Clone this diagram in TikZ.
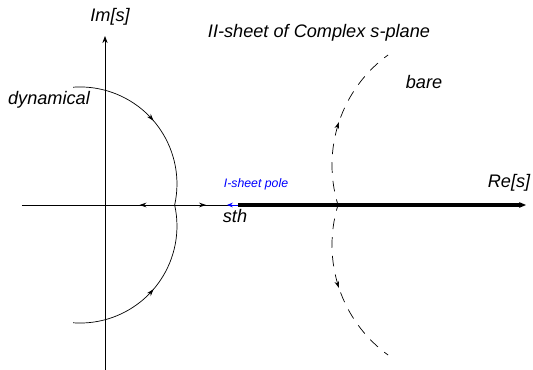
\documentclass[tikz,border=0pt]{standalone}
\usepackage{fontspec}
\setmainfont{Liberation Sans}
\usetikzlibrary{arrows.meta, decorations.markings}

\begin{document}
\begin{tikzpicture}[
    x=0.03cm, y=0.03cm,
    >=Stealth,
    lbl/.style={font=\fontsize{15.5}{18}\selectfont\itshape},
    axis/.style={line width=0.8pt},
    contour/.style={line width=0.6pt},
    bareline/.style={line width=0.6pt, dash pattern=on 9pt off 7pt, dash phase=4pt},
    midarrow/.style={postaction={decorate, decoration={markings,
        mark=at position 0.5 with {\arrow{Stealth[length=6pt, width=4pt]}}}}}
  ]
  \useasboundingbox (-105,-165) rectangle (428,205);

  % Axes
  \coordinate (O) at (0,0);
  \coordinate (xl) at (-83,0);
  \coordinate (cusp) at (69,0);
  \coordinate (cut) at (133,0);
  \coordinate (xr) at (421,0);
  \coordinate (yb) at (0,-165);
  \coordinate (yt) at (0,169);
  \draw[axis] (xl) -- (O);
  \draw[axis, midarrow] (cusp) -- (O);
  \draw[axis, midarrow] (cusp) -- (cut);
  \draw[axis, -{Stealth[length=6pt, width=4.5pt]}] (yb) -- (yt);
  \draw[line width=3.4pt, -{Stealth[length=6pt, width=5pt]}] (cut) -- (xr);

  % I-sheet pole
  \coordinate (pole) at (122,0);
  \draw[axis, blue, -{Stealth[length=5pt, width=4pt]}] (cut) -- (pole);

  % Dynamical contour
  \coordinate (dyntop) at (-31.8,117.8);
  \coordinate (dynbot) at (-31.8,-117.8);
  \draw[contour, midarrow] (dyntop) arc[start angle=94, end angle=-12.6, radius=2.91cm];
  \draw[contour, midarrow] (dynbot) arc[start angle=-94, end angle=12.6, radius=2.91cm];

  % Bare contour
  \coordinate (bcusp) at (233,0);
  \draw[bareline, midarrow] (bcusp) arc[start angle=197.1, end angle=126, radius=4.08cm];
  \draw[bareline, midarrow] (bcusp) arc[start angle=162.9, end angle=234, radius=4.08cm];

  % Labels
  \node[lbl] (im) at (5,188) {Im[s]};
  \node[lbl] (re) at (404,22) {Re[s]};
  \node[lbl] (title) at (214,172) {II-sheet of Complex s-plane};
  \node[lbl] (dyn) at (-56,105) {dynamical};
  \node[lbl] (bare) at (319,123) {bare};
  \node[lbl] (sth) at (130,-11) {sth};
  \node[font=\fontsize{10.5}{12}\selectfont\itshape, text=blue] (polelbl) at (151,21)
    {I-sheet pole};
\end{tikzpicture}
\end{document}
